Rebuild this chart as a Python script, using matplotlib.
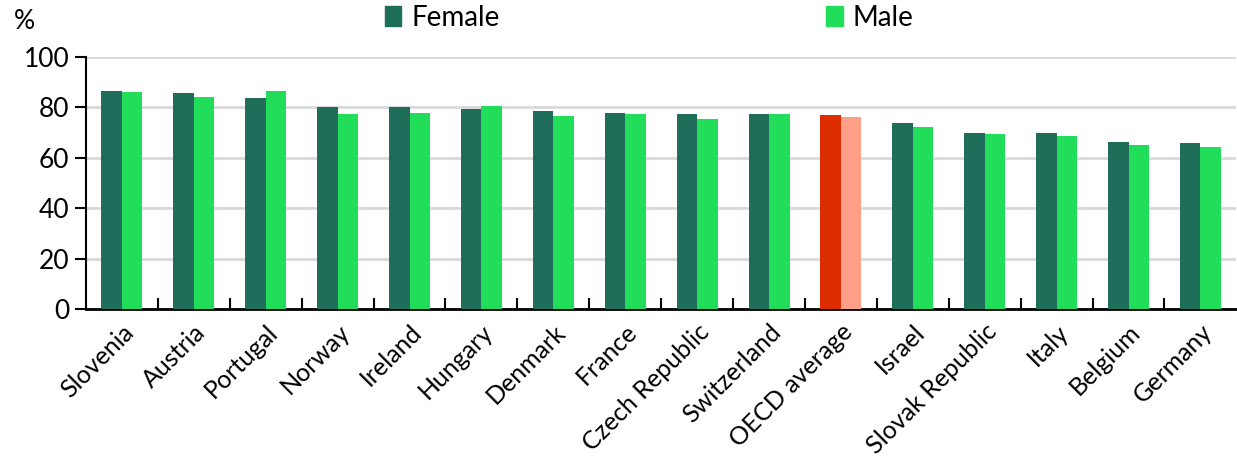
import numpy as np
import matplotlib.pyplot as plt
from matplotlib.patches import Patch

countries = ["Slovenia", "Austria", "Portugal", "Norway", "Ireland", "Hungary",
             "Denmark", "France", "Czech Republic", "Switzerland", "OECD average",
             "Israel", "Slovak Republic", "Italy", "Belgium", "Germany"]
female = [86.4, 85.6, 83.6, 80.3, 80.1, 79.2, 78.5, 77.9, 77.5, 77.2, 76.8,
          73.9, 69.9, 69.8, 66.4, 65.8]
male = [86.0, 84.2, 86.4, 77.5, 77.6, 80.7, 76.4, 77.2, 75.2, 77.5, 76.0,
        72.1, 69.5, 68.5, 65.2, 64.1]
yticks = [0, 20, 40, 60, 80, 100]

FEMALE_COL = "#1f6e5a"
MALE_COL = "#22dd5a"
OECD_F_COL = "#dd2c00"
OECD_M_COL = "#ff9f87"

plt.rcParams['font.family'] = ['Lato', 'DejaVu Sans']

fig = plt.figure(figsize=(12.37, 4.71), dpi=100)
ax = fig.add_axes([0.0695, 0.344, 0.93, 0.535])

x = np.arange(len(countries))
w = 0.285
f_cols = [OECD_F_COL if c == "OECD average" else FEMALE_COL for c in countries]
m_cols = [OECD_M_COL if c == "OECD average" else MALE_COL for c in countries]
ax.bar(x - w / 2, female, w, color=f_cols, zorder=3)
ax.bar(x + w / 2, male, w, color=m_cols, zorder=3)

ax.set_xlim(-0.5, len(countries) - 0.5)
ax.set_ylim(0, 100)
ax.set_yticks(yticks)
ax.tick_params(axis='y', labelsize=19, length=8, width=1.5, direction='out', pad=4)
ax.yaxis.grid(True, color="#d9d9d9", linewidth=2, zorder=0)

# ticks between categories on the x axis, labels at the centres
ax.set_xticks(x[:-1] + 0.5)
ax.set_xticklabels([])
ax.tick_params(axis='x', which='major', direction='in', length=8, width=1.5)
ax.set_xticks(x, minor=True)
ax.set_xticklabels(countries, minor=True, rotation=45, ha='right',
                   rotation_mode='anchor', fontsize=18)
ax.tick_params(axis='x', which='minor', length=0, pad=8)

for side in ['top', 'right']:
    ax.spines[side].set_visible(False)
ax.spines['left'].set_linewidth(1.5)
ax.spines['bottom'].set_linewidth(2)

fig.text(0.011, 0.955, "%", fontsize=19, va='center', ha='left')

# two legend entries placed separately, as in the original
for patch, xpos in [(Patch(color=FEMALE_COL, label="Female"), 0.311),
                    (Patch(color=MALE_COL, label="Male"), 0.668)]:
    fig.legend(handles=[patch], loc='center left', bbox_to_anchor=(xpos, 0.962),
               frameon=False, fontsize=20, handlelength=0.6, handleheight=0.7,
               handletextpad=0.35, borderaxespad=0, borderpad=0)

fig.savefig("out.png", dpi=100)
